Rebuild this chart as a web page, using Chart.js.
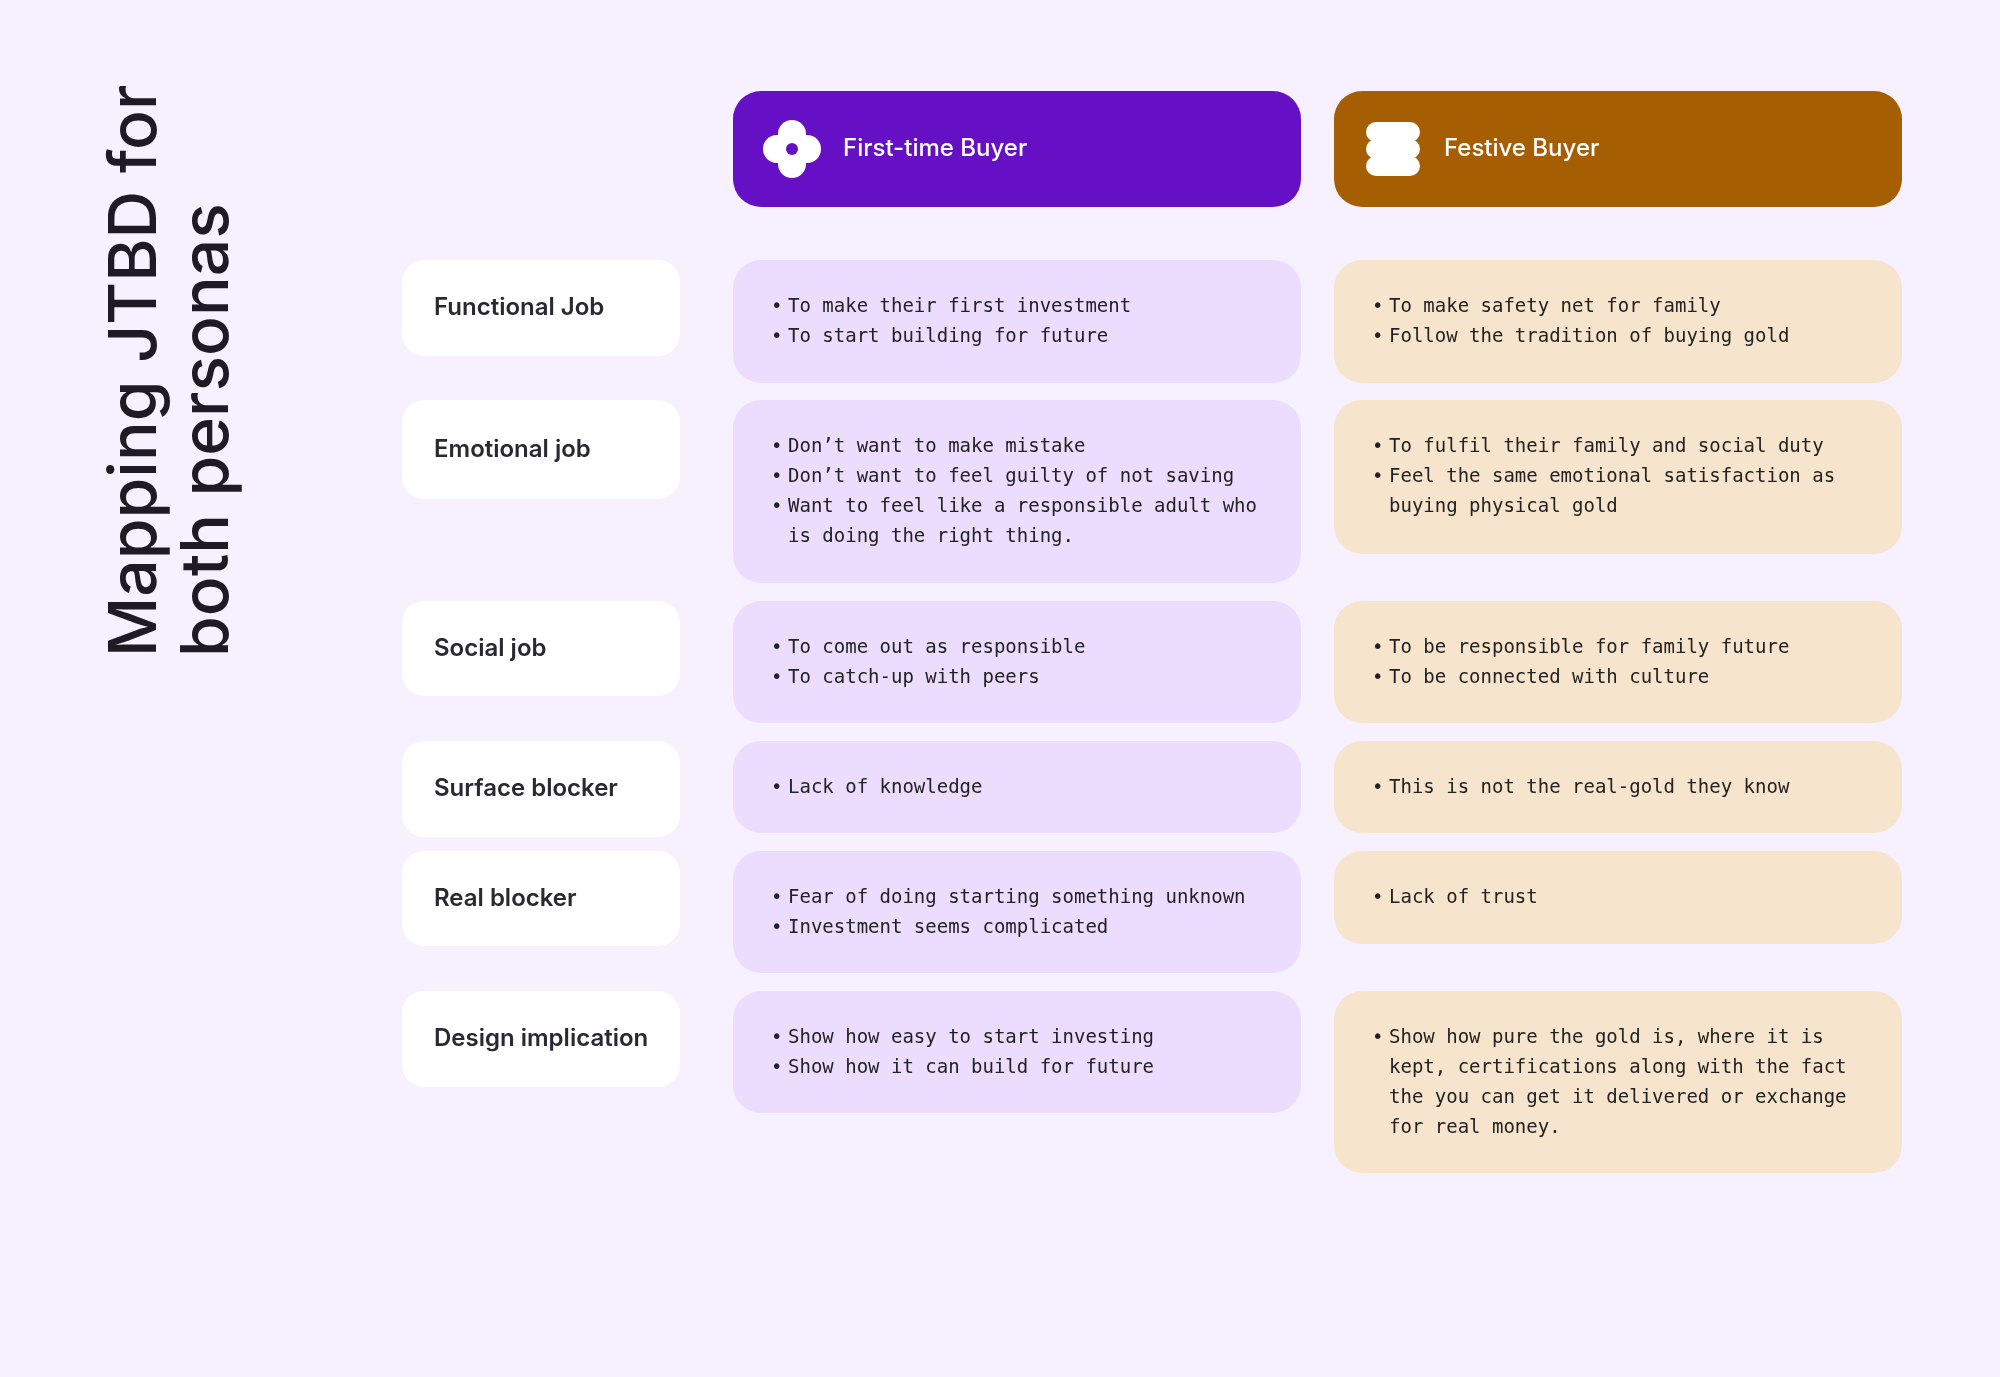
<!DOCTYPE html>
<html><head><meta charset="utf-8">
<script src="https://cdn.jsdelivr.net/npm/chart.js@4/dist/chart.umd.min.js"></script>
<style>html,body{margin:0;padding:0;background:#f7f0fe;}#c{display:block}</style>
</head><body>
<canvas id="c" width="2000" height="1377"></canvas>
<script>
const personas = ["First-time Buyer", "Festive Buyer"];
const rowLabels = ["Functional Job","Emotional job","Social job","Surface blocker","Real blocker","Design implication"];
const firstTimeBuyer = [
  ["To make their first investment","To start building for future"],
  ["Don’t want to make mistake","Don’t want to feel guilty of not saving","Want to feel like a responsible adult who","  is doing the right thing."],
  ["To come out as responsible","To catch-up with peers"],
  ["Lack of knowledge"],
  ["Fear of doing starting something unknown","Investment seems complicated"],
  ["Show how easy to start investing","Show how it can build for future"]
];
const festiveBuyer = [
  ["To make safety net for family","Follow the tradition of buying gold"],
  ["To fulfil their family and social duty","Feel the same emotional satisfaction as","  buying physical gold"],
  ["To be responsible for family future","To be connected with culture"],
  ["This is not the real-gold they know"],
  ["Lack of trust"],
  ["Show how pure the gold is, where it is","  kept, certifications along with the fact","  the you can get it delivered or exchange","  for real money."]
];
const titleLines = ["Mapping JTBD for","both personas"];

// layout (page units)
const layout = {
  header:{y0:91,y1:207},
  cols:[{x0:733,x1:1301},{x0:1334,x1:1902}],
  label:{x0:402,x1:680},
  rows:[
    {y0:260,y1:383,l1:356,c2:383},
    {y0:400,y1:583,l1:499,c2:554},
    {y0:601,y1:723,l1:696,c2:723},
    {y0:741,y1:833,l1:837,c2:833},
    {y0:851,y1:973,l1:946,c2:944},
    {y0:991,y1:1113,l1:1087,c2:1173}
  ]
};
const colors = {head:["#6610c6","#a65e03"],cell:["#ecdcfd","#f7e4cc"],label:"#ffffff"};

function rr(ctx,x,y,w,h,r){ctx.beginPath();ctx.roundRect(x,y,w,h,r);ctx.fill();}

const tablePlugin = {
  id:'table',
  afterDraw(chart){
    const ctx=chart.ctx, X=v=>chart.scales.x.getPixelForValue(v), Y=v=>chart.scales.y.getPixelForValue(v);
    ctx.save();
    // title
    ctx.fillStyle="#1f1a24";ctx.font="500 66px Inter, 'Noto Sans', sans-serif";ctx.textBaseline="middle";ctx.textAlign="left";
    [[136,titleLines[0]],[208,titleLines[1]]].forEach(([cx,t])=>{ctx.save();ctx.translate(X(cx),Y(657));ctx.rotate(-Math.PI/2);ctx.fillText(t,0,0);ctx.restore();});
    // headers
    layout.cols.forEach((c,i)=>{
      ctx.fillStyle=colors.head[i];rr(ctx,X(c.x0),Y(layout.header.y0),X(c.x1)-X(c.x0),Y(layout.header.y1)-Y(layout.header.y0),28);
      const cx=X(c.x0+59), cy=Y(149);
      ctx.fillStyle="#fff";
      if(i===0){
        [[0,-15],[0,15],[-15,0],[15,0]].forEach(([dx,dy])=>{ctx.beginPath();ctx.arc(cx+dx,cy+dy,14,0,Math.PI*2);ctx.fill();});
        ctx.beginPath();ctx.arc(cx,cy,16,0,Math.PI*2);ctx.fill();
        ctx.fillStyle=colors.head[0];ctx.beginPath();ctx.arc(cx,cy,6,0,Math.PI*2);ctx.fill();
      } else {
        ctx.beginPath();ctx.roundRect(cx-27,cy-27,54,20,10);ctx.roundRect(cx-27,cy-10,54,20,10);ctx.roundRect(cx-27,cy+7,54,20,10);ctx.fill();
      }
      ctx.fillStyle="#fff";ctx.font="500 24px Inter, 'Noto Sans', sans-serif";ctx.fillText(personas[i],X(c.x0+110),cy);
    });
    // rows
    layout.rows.forEach((r,i)=>{
      ctx.fillStyle=colors.label;rr(ctx,X(layout.label.x0),Y(r.y0),X(layout.label.x1)-X(layout.label.x0),Y(r.l1)-Y(r.y0),22);
      ctx.fillStyle="#2a2833";ctx.font="600 24px Inter, 'Noto Sans', sans-serif";ctx.fillText(rowLabels[i],X(434),(Y(r.y0)+Y(r.l1))/2);
      [[firstTimeBuyer,r.y1],[festiveBuyer,r.c2]].forEach(([data,yb],k)=>{
        const c=layout.cols[k];
        ctx.fillStyle=colors.cell[k];rr(ctx,X(c.x0),Y(r.y0),X(c.x1)-X(c.x0),Y(yb)-Y(r.y0),28);
        ctx.fillStyle="#222";ctx.font="19px 'DejaVu Sans Mono', monospace";
        data[i].forEach((line,j)=>{
          const y=Y(r.y0+47+j*30);
          if(!line.startsWith("  ")){ctx.font="19px 'DejaVu Sans Mono', monospace";ctx.fillText("•",X(c.x0+38),y);}
          ctx.fillText(line.trim(),X(c.x0+55),y);
        });
      });
    });
    ctx.restore();
  }
};

new Chart(document.getElementById('c'),{
  type:'scatter',
  data:{datasets:[{data:[],pointRadius:0}]},
  options:{responsive:false,animation:false,layout:{padding:0},
    plugins:{legend:{display:false},tooltip:{enabled:false}},
    scales:{x:{type:'linear',min:0,max:2000,display:false},y:{type:'linear',min:0,max:1377,reverse:true,display:false}}},
  plugins:[tablePlugin]
});
</script>
</body></html>
